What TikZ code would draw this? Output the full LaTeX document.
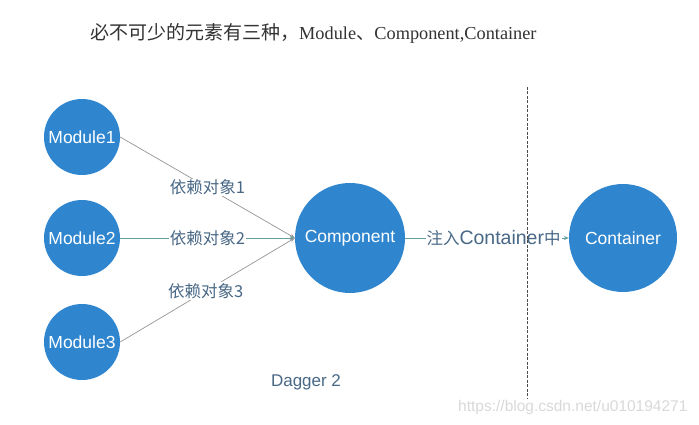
\documentclass[tikz,border=0pt]{standalone}
\usepackage{fontspec}
\setmainfont{Liberation Serif}
\setsansfont{Liberation Sans}
\newfontfamily\cjk{Noto Sans CJK SC}
\usetikzlibrary{arrows.meta}
\definecolor{ballc}{RGB}{47,134,207}
\definecolor{labc}{RGB}{72,104,134}
\definecolor{tealc}{RGB}{96,160,160}
\definecolor{greyl}{RGB}{150,150,150}
\tikzset{
  ball/.style={circle,fill=ballc,text=white,font=\sffamily\fontsize{17.5}{19}\selectfont,inner sep=0pt},
  modball/.style={ball,minimum size=76pt},
  deplab/.style={fill=white,text=labc,font=\cjk\fontsize{16.5}{18}\selectfont,inner sep=1pt},
  conn/.style={draw=greyl,line width=0.7pt,-{Stealth[length=5pt,width=4pt]}},
  tconn/.style={draw=tealc,line width=0.8pt,-{Stealth[length=5pt,width=4pt]}}
}
\begin{document}
\begin{tikzpicture}[x=1pt,y=-1pt]
\useasboundingbox[fill=white] (0,0) rectangle (699,425);
\node[anchor=west,inner sep=0pt,text=black!80] (title) at (90,33)
  {{\cjk\fontsize{19}{21}\selectfont 必不可少的元素有三种，}{\fontsize{18.3}{20}\selectfont Module{\cjk 、}Component,Container}};
\node[modball] (m1) at (82,137) {Module1};
\node[modball] (m2) at (82,238) {Module2};
\node[modball] (m3) at (82,342) {Module3};
\node[ball,minimum size=110pt] (comp) at (350,238) {Component};
\node[ball,minimum size=108pt] (cont) at (623,238) {Container};
\draw[conn] (m1.east) -- (comp.west) node[pos=0.5,deplab] (l1) {依赖对象1};
\draw[tconn] (m2.east) -- (comp.west) node[pos=0.5,deplab] (l2) {依赖对象2};
\draw[conn] (m3.east) -- (comp.west) node[pos=0.49,deplab] (l3) {依赖对象3};
\draw[tconn] (comp.east) -- (cont.west) node[pos=0.54,fill=white,text=labc,inner sep=1pt] (l4)
  {{\cjk\fontsize{16.5}{18}\selectfont 注入}{\sffamily\fontsize{19.5}{21}\selectfont Container}{\cjk\fontsize{16.5}{18}\selectfont 中}};
\coordinate (dtop) at (527,87);
\coordinate (dbot) at (527,398);
\draw[black!70,dashed,dash pattern=on 3pt off 1.5pt,line width=0.6pt] (dtop) -- (dbot);
\node[text=labc,font=\sffamily\fontsize{17}{19}\selectfont] (dag) at (306,382) {Dagger 2};
\node[text=black!15,font=\sffamily\fontsize{15.5}{17}\selectfont,anchor=east] (wm) at (691,407) {https://blog.csdn.net/u010194271};
\end{tikzpicture}
\end{document}
